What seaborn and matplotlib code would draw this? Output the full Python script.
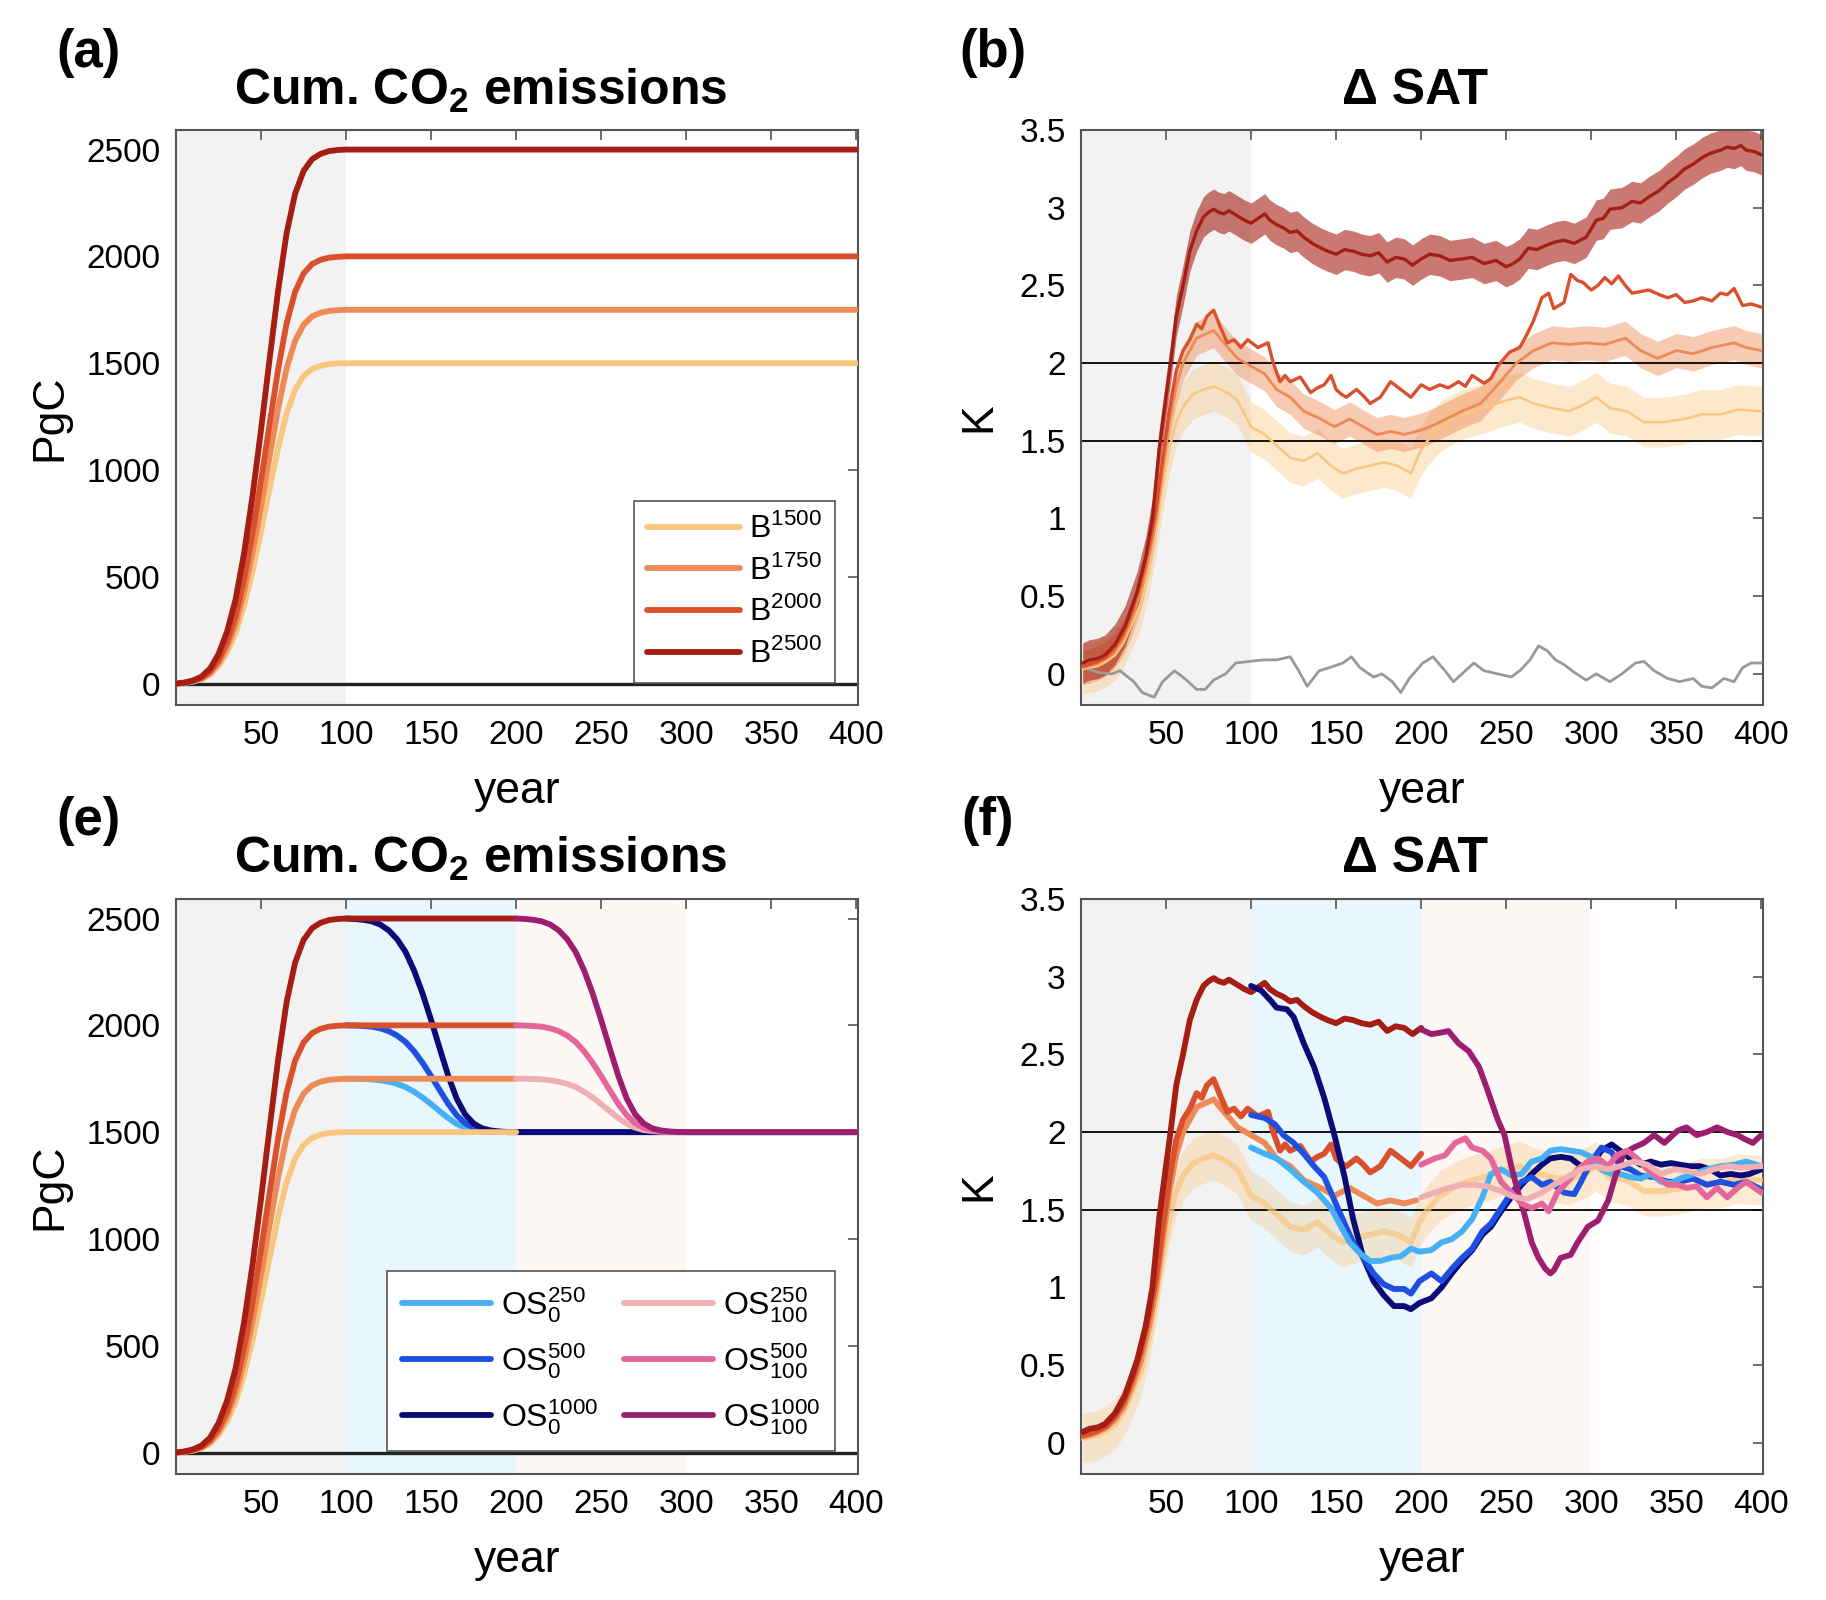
import matplotlib
matplotlib.use("Agg")
import matplotlib.pyplot as plt
import seaborn as sns

# ---------------- data ----------------
# cumulative emissions (PgC), panels (a)/(e)
cum_years_a = [0, 5, 10, 15, 20, 25, 30, 35, 40, 45, 50, 55, 60, 65, 70, 75, 80, 85, 90, 95, 100, 400]
cum_years_e = [0, 5, 10, 15, 20, 25, 30, 35, 40, 45, 50, 55, 60, 65, 70, 75, 80, 85, 90, 95, 100, 200]
cum_B2500 = [0, 5, 15, 33, 70, 138, 243, 393, 610, 880, 1190, 1518, 1838, 2108, 2293, 2400, 2455, 2480, 2493, 2498, 2500, 2500]
cum_B2000 = [0, 4, 12, 26, 56, 110, 194, 314, 488, 704, 952, 1214, 1470, 1686, 1834, 1920, 1964, 1984, 1994, 1998, 2000, 2000]
cum_B1750 = [0, 4, 11, 23, 49, 96, 170, 275, 427, 616, 833, 1062, 1286, 1475, 1605, 1680, 1719, 1736, 1745, 1748, 1750, 1750]
cum_B1500 = [0, 3, 9, 20, 42, 83, 146, 236, 366, 528, 714, 911, 1103, 1265, 1376, 1440, 1473, 1488, 1496, 1499, 1500, 1500]

cum_os0_years = [100, 105, 110, 115, 120, 125, 130, 135, 140, 145, 150, 155, 160, 165, 170, 175, 180, 185, 190, 195, 200, 400]
cum_os100_years = [200, 205, 210, 215, 220, 225, 230, 235, 240, 245, 250, 255, 260, 265, 270, 275, 280, 285, 290, 295, 300, 400]
cum_OS1000 = [2500, 2498, 2494, 2487, 2472, 2445, 2403, 2343, 2256, 2148, 2024, 1893, 1765, 1657, 1583, 1540, 1518, 1508, 1503, 1501, 1500, 1500]
cum_OS500 = [2000, 1999, 1997, 1994, 1986, 1973, 1952, 1922, 1878, 1824, 1762, 1697, 1633, 1579, 1542, 1520, 1509, 1504, 1502, 1500, 1500, 1500]
cum_OS250 = [1750, 1750, 1749, 1747, 1743, 1736, 1726, 1711, 1689, 1662, 1631, 1598, 1566, 1539, 1521, 1510, 1505, 1502, 1501, 1500, 1500, 1500]

# SAT anomaly (K), panels (b)/(f)
yr_B2500 = [1, 5, 10, 14, 20, 26, 33, 38, 42, 46, 49, 53, 56, 60, 64, 68, 72, 75, 78, 81, 84, 87, 90, 93, 96, 100,
            104, 108, 111, 115, 119, 123, 127, 131, 136, 141, 145, 150, 155, 160, 165, 170, 175, 180, 185, 190, 195,
            200, 205, 211, 217, 224, 230, 237, 244, 250, 254, 258, 263, 268, 274, 279, 284, 290, 297, 303, 307, 311,
            318, 324, 329, 334, 340, 345, 350, 355, 360, 365, 370, 376, 380, 384, 388, 391, 396, 400]
sat_B2500 = [0.07, 0.09, 0.10, 0.12, 0.19, 0.31, 0.53, 0.75, 1.00, 1.45, 1.70, 2.03, 2.30, 2.50, 2.72, 2.85, 2.94,
             2.97, 2.99, 2.97, 2.96, 2.98, 2.96, 2.94, 2.92, 2.90, 2.93, 2.96, 2.92, 2.89, 2.87, 2.84, 2.85, 2.81,
             2.77, 2.74, 2.72, 2.70, 2.73, 2.72, 2.70, 2.69, 2.71, 2.65, 2.68, 2.67, 2.63, 2.67, 2.70, 2.69, 2.66,
             2.67, 2.68, 2.64, 2.66, 2.62, 2.64, 2.67, 2.74, 2.73, 2.76, 2.78, 2.79, 2.77, 2.81, 2.92, 2.93, 2.99,
             3.00, 3.04, 3.03, 3.07, 3.11, 3.16, 3.20, 3.25, 3.28, 3.32, 3.35, 3.37, 3.39, 3.38, 3.40, 3.37, 3.36,
             3.34]
yr_B2000 = [1, 5, 10, 15, 20, 25, 30, 35, 40, 44, 48, 52, 56, 60, 64, 68, 71, 74, 78, 82, 86, 90, 94, 98, 104, 110,
            113, 117, 120, 123, 129, 135, 139, 143, 147, 150, 153, 156, 162, 166, 170, 176, 182, 188, 194, 200, 205,
            211, 216, 222, 226, 230, 237, 241, 245, 252, 258, 262, 266, 271, 275, 278, 284, 288, 292, 295, 300, 304,
            308, 312, 316, 320, 324, 329, 334, 340, 345, 350, 355, 360, 365, 371, 376, 380, 384, 389, 394, 400]
sat_B2000 = [0.05, 0.06, 0.08, 0.11, 0.17, 0.26, 0.40, 0.58, 0.82, 1.05, 1.38, 1.70, 1.95, 2.08, 2.15, 2.25, 2.22,
             2.30, 2.34, 2.23, 2.13, 2.15, 2.10, 2.15, 2.10, 2.13, 2.00, 1.88, 1.92, 1.88, 1.91, 1.81, 1.84, 1.86,
             1.92, 1.83, 1.80, 1.78, 1.83, 1.79, 1.74, 1.78, 1.88, 1.83, 1.78, 1.86, 1.83, 1.86, 1.84, 1.88, 1.85,
             1.92, 1.87, 1.90, 1.98, 2.07, 2.10, 2.18, 2.27, 2.42, 2.45, 2.35, 2.39, 2.57, 2.53, 2.52, 2.47, 2.50,
             2.55, 2.51, 2.56, 2.50, 2.45, 2.46, 2.47, 2.44, 2.42, 2.44, 2.39, 2.40, 2.42, 2.40, 2.45, 2.44, 2.48,
             2.37, 2.38, 2.36]
yr_B1750 = [1, 5, 10, 15, 20, 25, 30, 35, 40, 44, 48, 52, 56, 60, 64, 68, 74, 78, 84, 92, 100, 108, 115, 123, 131,
            141, 149, 158, 166, 174, 182, 190, 197, 203, 211, 224, 235, 245, 256, 266, 277, 287, 297, 308, 320, 329,
            339, 350, 360, 371, 384, 391, 400]
sat_B1750 = [0.04, 0.05, 0.07, 0.10, 0.15, 0.23, 0.36, 0.52, 0.75, 0.98, 1.30, 1.62, 1.85, 2.00, 2.08, 2.16, 2.19,
             2.21, 2.13, 2.03, 1.98, 1.93, 1.83, 1.78, 1.69, 1.64, 1.59, 1.64, 1.59, 1.54, 1.56, 1.54, 1.56, 1.58,
             1.62, 1.69, 1.74, 1.86, 2.00, 2.08, 2.13, 2.12, 2.13, 2.12, 2.16, 2.08, 2.03, 2.08, 2.06, 2.10, 2.13,
             2.10, 2.08]
yr_B1500 = [1, 5, 10, 15, 20, 25, 30, 35, 40, 44, 48, 52, 56, 60, 66, 72, 78, 86, 92, 100, 108, 115, 123, 131, 139,
            147, 154, 162, 170, 178, 186, 194, 199, 203, 211, 222, 230, 240, 250, 258, 266, 277, 287, 297, 303, 311,
            321, 331, 342, 355, 365, 376, 386, 400]
sat_B1500 = [0.03, 0.04, 0.05, 0.08, 0.12, 0.20, 0.32, 0.45, 0.68, 0.92, 1.20, 1.45, 1.62, 1.72, 1.80, 1.83, 1.85,
             1.81, 1.76, 1.59, 1.54, 1.47, 1.39, 1.37, 1.42, 1.34, 1.29, 1.32, 1.34, 1.36, 1.34, 1.29, 1.42, 1.49,
             1.59, 1.66, 1.69, 1.72, 1.76, 1.78, 1.74, 1.71, 1.69, 1.74, 1.78, 1.71, 1.69, 1.62, 1.62, 1.64, 1.67,
             1.67, 1.70, 1.69]
spread_B2500 = 0.13
spread_B1750 = 0.11
spread_B1500 = 0.16

yr_ctrl = [2, 10, 18, 23, 31, 36, 43, 48, 55, 61, 68, 73, 78, 85, 91, 99, 107, 115, 123, 128, 133, 140, 146, 154,
           159, 164, 172, 177, 183, 188, 193, 201, 207, 214, 219, 224, 231, 237, 245, 253, 258, 264, 269, 274, 279,
           284, 290, 297, 303, 311, 318, 326, 331, 337, 345, 352, 360, 365, 371, 378, 384, 389, 394, 400]
sat_ctrl = [0.04, 0.01, 0.00, 0.02, -0.05, -0.12, -0.15, -0.05, 0.02, -0.03, -0.10, -0.10, -0.04, 0.00, 0.07, 0.08,
            0.09, 0.09, 0.11, 0.02, -0.08, 0.02, 0.04, 0.07, 0.11, 0.04, -0.02, 0.00, -0.05, -0.12, -0.03, 0.07,
            0.11, 0.02, -0.05, 0.00, 0.07, 0.02, 0.00, -0.02, 0.02, 0.09, 0.18, 0.15, 0.09, 0.06, 0.01, -0.04, 0.00,
            -0.05, 0.00, 0.07, 0.08, 0.02, -0.03, -0.05, -0.03, -0.08, -0.09, -0.03, -0.05, 0.04, 0.07, 0.07]

yr_OS0_1000 = [100, 106, 112, 115, 121, 125, 131, 137, 143, 149, 155, 160, 166, 172, 178, 184, 190, 194, 199, 206,
               212, 218, 224, 230, 236, 241, 247, 253, 259, 265, 271, 276, 282, 288, 294, 300, 306, 312, 317, 323,
               329, 335, 341, 347, 352, 358, 364, 370, 376, 382, 388, 393, 400]
sat_OS0_1000 = [2.94, 2.91, 2.84, 2.80, 2.79, 2.74, 2.57, 2.42, 2.22, 1.98, 1.71, 1.44, 1.19, 1.04, 0.95, 0.88,
                0.88, 0.86, 0.90, 0.93, 1.00, 1.09, 1.17, 1.24, 1.34, 1.39, 1.49, 1.58, 1.66, 1.73, 1.79, 1.83,
                1.84, 1.83, 1.78, 1.79, 1.88, 1.92, 1.88, 1.83, 1.79, 1.81, 1.79, 1.80, 1.79, 1.78, 1.78, 1.76,
                1.72, 1.73, 1.72, 1.73, 1.76]
yr_OS0_500 = [100, 108, 114, 119, 125, 131, 137, 143, 149, 155, 160, 166, 172, 178, 184, 190, 194, 199, 206, 212,
              218, 224, 230, 236, 241, 247, 253, 259, 265, 271, 276, 284, 290, 294, 300, 306, 312, 317, 323, 329,
              337, 345, 352, 360, 368, 376, 384, 391, 400]
sat_OS0_500 = [2.11, 2.09, 2.05, 1.98, 1.93, 1.86, 1.78, 1.71, 1.56, 1.41, 1.29, 1.19, 1.09, 1.02, 0.99, 0.99,
               0.96, 1.04, 1.09, 1.04, 1.12, 1.19, 1.25, 1.36, 1.41, 1.51, 1.61, 1.68, 1.71, 1.66, 1.68, 1.61,
               1.60, 1.68, 1.81, 1.90, 1.87, 1.78, 1.76, 1.72, 1.71, 1.68, 1.68, 1.70, 1.66, 1.68, 1.66, 1.68, 1.63]
yr_OS0_250 = [100, 108, 115, 123, 131, 139, 147, 153, 158, 164, 170, 176, 182, 188, 194, 199, 206, 212, 218, 224,
              230, 236, 241, 247, 253, 259, 265, 271, 276, 282, 288, 294, 300, 306, 312, 317, 323, 329, 335, 341,
              347, 352, 360, 368, 376, 384, 391, 400]
sat_OS0_250 = [1.90, 1.86, 1.83, 1.76, 1.68, 1.61, 1.51, 1.39, 1.29, 1.22, 1.17, 1.17, 1.19, 1.20, 1.25, 1.23,
               1.24, 1.29, 1.31, 1.36, 1.44, 1.58, 1.73, 1.76, 1.72, 1.73, 1.81, 1.83, 1.88, 1.89, 1.88, 1.87,
               1.84, 1.76, 1.73, 1.73, 1.71, 1.70, 1.73, 1.68, 1.67, 1.70, 1.73, 1.76, 1.78, 1.79, 1.81, 1.78]
yr_OS100_1000 = [200, 206, 212, 216, 222, 228, 234, 239, 245, 249, 253, 257, 261, 265, 269, 273, 276, 278, 282, 288,
                 292, 298, 304, 310, 314, 319, 325, 331, 337, 343, 351, 356, 362, 368, 374, 380, 386, 391, 395, 400]
sat_OS100_1000 = [2.66, 2.63, 2.64, 2.65, 2.57, 2.52, 2.42, 2.27, 2.08, 1.98, 1.78, 1.61, 1.46, 1.29, 1.19, 1.12,
                  1.09, 1.11, 1.19, 1.21, 1.29, 1.39, 1.43, 1.56, 1.71, 1.86, 1.90, 1.93, 1.98, 1.93, 2.01, 2.03,
                  1.98, 2.00, 2.03, 2.00, 1.98, 1.95, 1.93, 1.98]
yr_OS100_500 = [200, 208, 214, 220, 226, 230, 236, 241, 247, 253, 259, 265, 271, 275, 280, 286, 292, 298, 304, 310,
                315, 321, 327, 333, 339, 345, 351, 356, 362, 368, 374, 380, 386, 391, 400]
sat_OS100_500 = [1.79, 1.83, 1.85, 1.93, 1.96, 1.90, 1.88, 1.83, 1.68, 1.61, 1.54, 1.51, 1.54, 1.49, 1.61, 1.68,
                 1.76, 1.81, 1.83, 1.78, 1.85, 1.88, 1.83, 1.76, 1.71, 1.66, 1.66, 1.64, 1.65, 1.58, 1.64, 1.58,
                 1.64, 1.68, 1.61]
yr_OS100_250 = [200, 208, 216, 224, 232, 239, 247, 255, 263, 271, 278, 286, 294, 302, 310, 317, 325, 333, 341, 349,
                356, 364, 372, 380, 388, 400]
sat_OS100_250 = [1.58, 1.61, 1.64, 1.66, 1.66, 1.65, 1.62, 1.58, 1.57, 1.61, 1.66, 1.71, 1.76, 1.78, 1.76, 1.78,
                 1.81, 1.79, 1.73, 1.76, 1.75, 1.73, 1.76, 1.78, 1.77, 1.78]

labels_B = ["B$^{1500}$", "B$^{1750}$", "B$^{2000}$", "B$^{2500}$"]
labels_OS = ["OS$_{0}^{250}$", "OS$_{0}^{500}$", "OS$_{0}^{1000}$",
             "OS$_{100}^{250}$", "OS$_{100}^{500}$", "OS$_{100}^{1000}$"]
x_ticks = [50, 100, 150, 200, 250, 300, 350, 400]
pgc_ticks = [0, 500, 1000, 1500, 2000, 2500]
k_ticks = [0, 0.5, 1, 1.5, 2, 2.5, 3, 3.5]
k_ticklabels = ["0", "0.5", "1", "1.5", "2", "2.5", "3", "3.5"]
thresholds = [1.5, 2.0]

# ---------------- style ----------------
C_B1500, C_B1750, C_B2000, C_B2500 = "#F8C67F", "#EE8A56", "#D9502D", "#A51E14"
C_OS0 = ["#45B0F5", "#1E4FE0", "#0B0B78"]
C_OS100 = ["#F0B0B3", "#E4679B", "#9C1F6F"]
C_GRAY_BG, C_BLUE_BG, C_PINK_BG = "#F2F2F2", "#E8F6FD", "#FDF7F5"
C_SPINE = "#555555"

sns.set_theme(style="white")
plt.rcParams["font.family"] = ["Liberation Sans", "DejaVu Sans"]
plt.rcParams["mathtext.fontset"] = "custom"
plt.rcParams["mathtext.rm"] = "Liberation Sans"
plt.rcParams["mathtext.it"] = "Liberation Sans:italic"
plt.rcParams["mathtext.bf"] = "Liberation Sans:bold"
plt.rcParams["text.color"] = "black"
plt.rcParams["axes.labelcolor"] = "black"

fig = plt.figure(figsize=(18.26, 16), dpi=100)
axA = fig.add_axes([0.0964, 0.5594, 0.3735, 0.3594])
axB = fig.add_axes([0.592, 0.5594, 0.3735, 0.3594])
axE = fig.add_axes([0.0964, 0.0788, 0.3735, 0.3594])
axF = fig.add_axes([0.592, 0.0788, 0.3735, 0.3594])

LW_THICK = 4.2


def style(ax, ylim, yticks, yticklabels, ylabel, ylabel_x):
    ax.set_xlim(0, 401)
    ax.set_ylim(*ylim)
    ax.set_xticks(x_ticks)
    ax.set_yticks(yticks)
    ax.set_yticklabels(yticklabels)
    ax.tick_params(direction="in", top=True, right=True, length=7, width=1.2,
                   color=C_SPINE, labelsize=24, labelcolor="black", pad=11)
    for s in ax.spines.values():
        s.set_color(C_SPINE)
        s.set_linewidth(1.5)
    ax.set_xlabel("year", fontsize=32)
    ax.xaxis.set_label_coords(0.5, -0.115)
    ax.set_ylabel(ylabel, fontsize=32)
    ax.yaxis.set_label_coords(ylabel_x, 0.5)
    ax.set_facecolor("white")


def line(ax, x, y, color, lw, alpha=1.0, z=3, label=None):
    sns.lineplot(x=x, y=y, ax=ax, color=color, lw=lw, alpha=alpha, estimator=None,
                 sort=False, errorbar=None, zorder=z, label=label, legend=False)
    return ax.lines[-1]


def band(ax, x, y, spread, color, alpha, z=2):
    ax.fill_between(x, [v - spread for v in y], [v + spread for v in y],
                    color=color, alpha=alpha, lw=0, zorder=z)


# ---- (a) ----
axA.axvspan(0, 100, color=C_GRAY_BG, lw=0, zorder=0)
axA.axhline(0, color="#222222", lw=2.4, zorder=2)
hB = []
for vals, c, lab in zip([cum_B1500, cum_B1750, cum_B2000, cum_B2500],
                        [C_B1500, C_B1750, C_B2000, C_B2500], labels_B):
    hB.append(line(axA, cum_years_a, vals, c, LW_THICK, label=lab))
leg = axA.legend(hB, labels_B, loc="lower right", bbox_to_anchor=(0.966, 0.038), borderaxespad=0,
                 fontsize=23, frameon=True, fancybox=False, framealpha=1, edgecolor=C_SPINE,
                 handlelength=2.9, handletextpad=0.3, borderpad=0.4, labelspacing=0.33)
leg.get_frame().set_linewidth(1.2)
style(axA, (-100, 2592), pgc_ticks, [str(t) for t in pgc_ticks], "PgC", -0.155)

# ---- (b) ----
axB.axvspan(0, 100, color=C_GRAY_BG, lw=0, zorder=0)
for t in thresholds:
    axB.axhline(t, color="black", lw=1.3, zorder=2.5)
band(axB, yr_B1500, sat_B1500, spread_B1500, C_B1500, 0.4)
band(axB, yr_B1750, sat_B1750, spread_B1750, C_B1750, 0.45)
band(axB, yr_B2500, sat_B2500, spread_B2500, C_B2500, 0.6)
line(axB, yr_ctrl, sat_ctrl, "#999999", 2.0)
line(axB, yr_B1500, sat_B1500, C_B1500, 1.8)
line(axB, yr_B1750, sat_B1750, C_B1750, 2.0)
line(axB, yr_B2000, sat_B2000, C_B2000, 2.4)
line(axB, yr_B2500, sat_B2500, C_B2500, 2.4)
style(axB, (-0.2, 3.5), k_ticks, k_ticklabels, "K", -0.12)

# ---- (e) ----
axE.axvspan(0, 100, color=C_GRAY_BG, lw=0, zorder=0)
axE.axvspan(100, 200, color=C_BLUE_BG, lw=0, zorder=0)
axE.axvspan(200, 300, color=C_PINK_BG, lw=0, zorder=0)
axE.axhline(0, color="#222222", lw=2.4, zorder=2)
hOS = {}
for vals, c, lab in zip([cum_OS250, cum_OS500, cum_OS1000], C_OS0, labels_OS[:3]):
    hOS[lab] = line(axE, cum_os0_years, vals, c, LW_THICK, z=3)
for vals, c in zip([cum_B1500, cum_B1750, cum_B2000, cum_B2500],
                   [C_B1500, C_B1750, C_B2000, C_B2500]):
    line(axE, cum_years_e, vals, c, LW_THICK, z=4)
for vals, c, lab in zip([cum_OS250, cum_OS500, cum_OS1000], C_OS100, labels_OS[3:]):
    hOS[lab] = line(axE, cum_os100_years, vals, c, LW_THICK, z=5)
leg = axE.legend([hOS[l] for l in labels_OS], labels_OS, ncol=2, loc="lower right",
                 bbox_to_anchor=(0.966, 0.04), borderaxespad=0, fontsize=23, frameon=True,
                 fancybox=False, framealpha=1, edgecolor=C_SPINE, handlelength=2.8,
                 handletextpad=0.3, borderpad=0.45, labelspacing=0.5, columnspacing=0.8)
leg.get_frame().set_linewidth(1.2)
style(axE, (-100, 2592), pgc_ticks, [str(t) for t in pgc_ticks], "PgC", -0.155)

# ---- (f) ----
axF.axvspan(0, 100, color=C_GRAY_BG, lw=0, zorder=0)
axF.axvspan(100, 200, color=C_BLUE_BG, lw=0, zorder=0)
axF.axvspan(200, 300, color=C_PINK_BG, lw=0, zorder=0)
for t in thresholds:
    axF.axhline(t, color="black", lw=1.3, zorder=2.5)
band(axF, yr_B1500, sat_B1500, spread_B1500, C_B1500, 0.35)
line(axF, yr_B1500, sat_B1500, C_B1500, LW_THICK, alpha=0.7)


def upto(yrs, vals, end):
    pairs = [(a, b) for a, b in zip(yrs, vals) if a <= end]
    return [p[0] for p in pairs], [p[1] for p in pairs]


for yrs, vals, c in [(yr_B1750, sat_B1750, C_B1750), (yr_B2000, sat_B2000, C_B2000),
                     (yr_B2500, sat_B2500, C_B2500)]:
    xx, yy = upto(yrs, vals, 201)
    line(axF, xx, yy, c, LW_THICK, z=3)
line(axF, yr_OS0_1000, sat_OS0_1000, C_OS0[2], LW_THICK, z=4)
line(axF, yr_OS0_500, sat_OS0_500, C_OS0[1], LW_THICK, z=4)
line(axF, yr_OS0_250, sat_OS0_250, C_OS0[0], LW_THICK, z=4)
line(axF, yr_OS100_1000, sat_OS100_1000, C_OS100[2], LW_THICK, z=5)
line(axF, yr_OS100_500, sat_OS100_500, C_OS100[1], LW_THICK, z=5)
line(axF, yr_OS100_250, sat_OS100_250, C_OS100[0], LW_THICK, z=5)
style(axF, (-0.2, 3.5), k_ticks, k_ticklabels, "K", -0.12)

# ---- titles and panel letters ----
fig.text(0.263, 0.943, "Cum. CO$_\\mathbf{2}$ emissions", ha="center", va="center", fontsize=36, weight="bold")
fig.text(0.775, 0.943, "Δ SAT", ha="center", va="center", fontsize=36, weight="bold")
fig.text(0.263, 0.463, "Cum. CO$_\\mathbf{2}$ emissions", ha="center", va="center", fontsize=36, weight="bold")
fig.text(0.775, 0.463, "Δ SAT", ha="center", va="center", fontsize=36, weight="bold")
for x, y, s in [(0.0485, 0.967, "(a)"), (0.544, 0.967, "(b)"), (0.0485, 0.487, "(e)"), (0.541, 0.487, "(f)")]:
    fig.text(x, y, s, ha="center", va="center", fontsize=38, weight="bold")

fig.savefig("out.png", dpi=100, facecolor="white")
